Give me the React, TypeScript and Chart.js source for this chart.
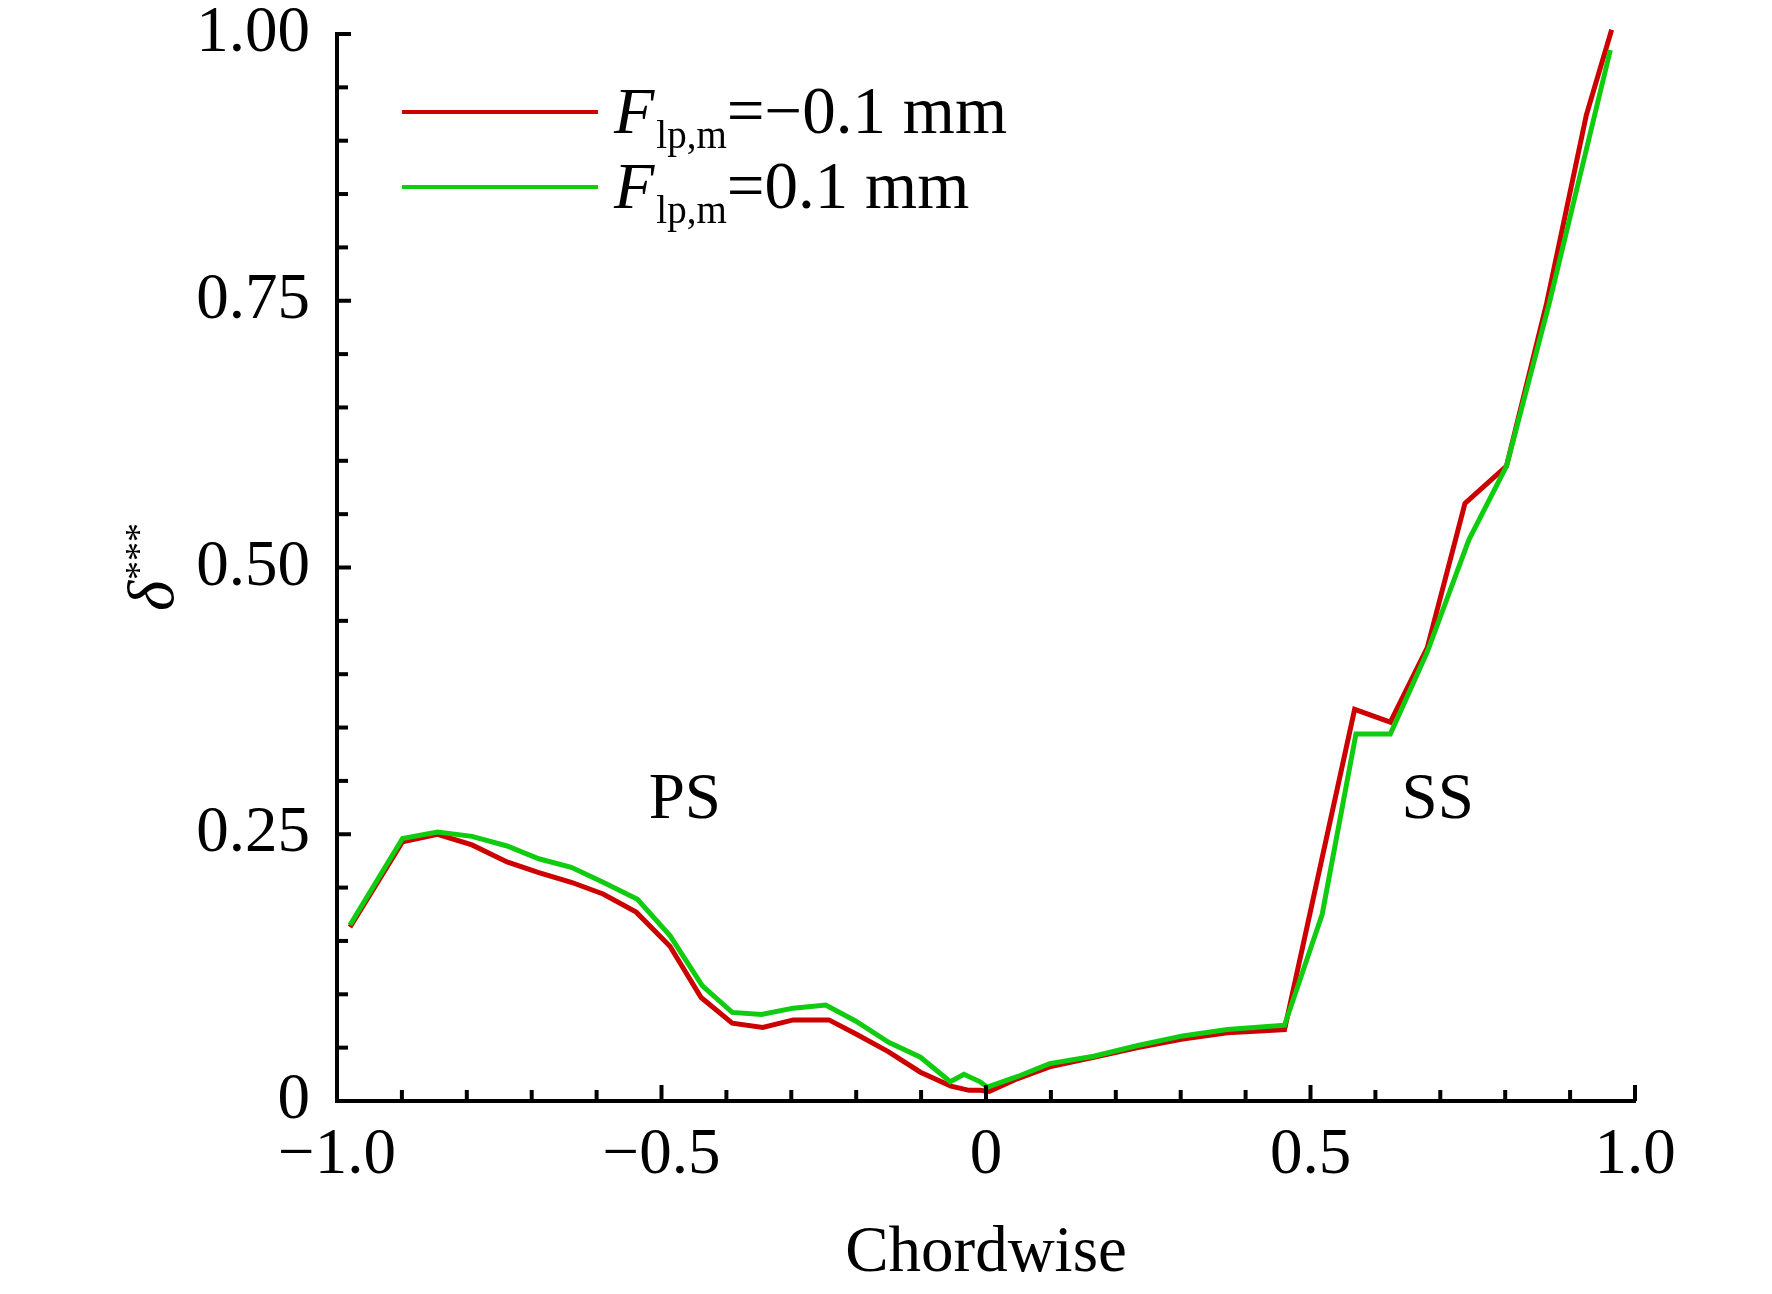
import React, { useEffect, useRef } from 'react';
import { Chart, registerables } from 'chart.js';

Chart.register(...registerables);

const FONT = "'Liberation Serif', 'Times New Roman', serif";

// chordwise position and delta*** for F_lp,m = -0.1 mm
const redX = [
  -0.98, -0.899, -0.845, -0.792, -0.738, -0.689, -0.639, -0.59, -0.539, -0.487, -0.439, -0.391,
  -0.344, -0.297, -0.242, -0.201, -0.15, -0.101, -0.054, -0.026, -0.009, 0.005, 0.049, 0.098,
  0.166, 0.234, 0.303, 0.372, 0.46, 0.568, 0.623, 0.68, 0.738, 0.802, 0.864, 0.925, 0.964,
];
const redY = [
  0.163, 0.243, 0.25, 0.24, 0.224, 0.214, 0.205, 0.194, 0.177, 0.145, 0.097, 0.073,
  0.069, 0.076, 0.076, 0.063, 0.046, 0.027, 0.014, 0.01, 0.01, 0.009, 0.021, 0.032,
  0.041, 0.05, 0.058, 0.064, 0.067, 0.367, 0.355, 0.425, 0.56, 0.595, 0.748, 0.924, 1.004,
];

// F_lp,m = 0.1 mm
const greenX = [
  -0.98, -0.899, -0.845, -0.792, -0.738, -0.689, -0.639, -0.59, -0.537, -0.487, -0.437, -0.391,
  -0.346, -0.297, -0.247, -0.201, -0.15, -0.101, -0.055, -0.034, -0.009, 0.002, 0.049, 0.098,
  0.166, 0.234, 0.303, 0.372, 0.46, 0.518, 0.57, 0.623, 0.68, 0.744, 0.802, 0.868, 0.962,
];
const greenY = [
  0.165, 0.246, 0.252, 0.248, 0.239, 0.227, 0.219, 0.205, 0.189, 0.155, 0.108, 0.083,
  0.081, 0.087, 0.09, 0.075, 0.055, 0.041, 0.018, 0.025, 0.018, 0.013, 0.023, 0.035,
  0.042, 0.052, 0.061, 0.067, 0.071, 0.175, 0.344, 0.344, 0.421, 0.526, 0.595, 0.748, 0.985,
];

const xTickValues = [-1, -0.5, 0, 0.5, 1];
const xTickLabels = ['\u22121.0', '\u22120.5', '0', '0.5', '1.0'];
const yTickValues = [0, 0.25, 0.5, 0.75, 1];
const yTickLabels = ['0', '0.25', '0.50', '0.75', '1.00'];

const seriesColors = ['#cc0000', '#10cc10'];
const legendTails = ['=\u22120.1 mm', '=0.1 mm'];
const regionLabels = ['PS', 'SS'];
const regionX = [-0.464, 0.696];
const regionY = 0.265;

const toPoints = (xs: number[], ys: number[]) => xs.map((x, i) => ({ x, y: ys[i] }));

const decorPlugin = {
  id: 'decor',
  afterDraw(chart: any) {
    const { ctx, chartArea, scales } = chart;
    const xs = scales.x;
    const ys = scales.y;
    ctx.save();
    ctx.strokeStyle = '#000';
    ctx.lineWidth = 4;

    // inward tick marks
    for (let i = 0; i <= 20; i++) {
      const px = xs.getPixelForValue(-1 + i * 0.1);
      const len = i % 5 === 0 ? 16 : 11;
      ctx.beginPath();
      ctx.moveTo(px, chartArea.bottom);
      ctx.lineTo(px, chartArea.bottom - len);
      ctx.stroke();
    }
    for (let i = 1; i <= 20; i++) {
      const py = ys.getPixelForValue(i * 0.05);
      const len = i % 5 === 0 ? 14 : 11;
      ctx.beginPath();
      ctx.moveTo(chartArea.left, py);
      ctx.lineTo(chartArea.left + len, py);
      ctx.stroke();
    }

    ctx.fillStyle = '#000';
    ctx.textBaseline = 'alphabetic';

    // PS / SS
    ctx.font = `65px ${FONT}`;
    ctx.textAlign = 'center';
    regionLabels.forEach((t, i) => {
      ctx.fillText(t, xs.getPixelForValue(regionX[i]), ys.getPixelForValue(regionY));
    });

    // legend
    ctx.textAlign = 'left';
    legendTails.forEach((tail, i) => {
      const ly = 112 + i * 75;
      ctx.strokeStyle = seriesColors[i];
      ctx.lineWidth = 4;
      ctx.beginPath();
      ctx.moveTo(402, ly);
      ctx.lineTo(598, ly);
      ctx.stroke();
      const base = ly + 21;
      let tx = 614;
      ctx.font = `italic 66px ${FONT}`;
      ctx.fillText('F', tx, base);
      tx += ctx.measureText('F').width + 2;
      ctx.font = `39px ${FONT}`;
      ctx.fillText('lp,m', tx, base + 15);
      tx += ctx.measureText('lp,m').width;
      ctx.font = `67px ${FONT}`;
      ctx.fillText(tail, tx, base);
    });

    // y axis title: delta with superscript ***
    ctx.font = `italic 65px ${FONT}`;
    const dw = ctx.measureText('\u03b4').width;
    ctx.font = `38px ${FONT}`;
    const sw = ctx.measureText('***').width;
    const cy = (chartArea.top + chartArea.bottom) / 2;
    ctx.translate(173, cy + (dw + sw) / 2);
    ctx.rotate(-Math.PI / 2);
    ctx.font = `italic 65px ${FONT}`;
    ctx.fillText('\u03b4', 0, 0);
    ctx.font = `38px ${FONT}`;
    ctx.fillText('***', dw + 1, -22);
    ctx.restore();
  },
};

const App: React.FC = () => {
  const canvasRef = useRef<HTMLCanvasElement | null>(null);
  const chartRef = useRef<Chart | null>(null);

  useEffect(() => {
    if (chartRef.current) {
      chartRef.current.destroy();
    }
    const ctx = canvasRef.current?.getContext('2d');
    if (!ctx) return;

    chartRef.current = new Chart(ctx, {
      type: 'scatter',
      data: {
        datasets: [
          {
            label: 'Flp,m=\u22120.1 mm',
            data: toPoints(redX, redY),
            borderColor: seriesColors[0],
            backgroundColor: seriesColors[0],
            showLine: true,
            borderWidth: 5,
            pointRadius: 0,
            tension: 0,
            clip: false,
            order: 1,
          },
          {
            label: 'Flp,m=0.1 mm',
            data: toPoints(greenX, greenY),
            borderColor: seriesColors[1],
            backgroundColor: seriesColors[1],
            showLine: true,
            borderWidth: 5,
            pointRadius: 0,
            tension: 0,
            clip: false,
            order: 0,
          },
        ],
      },
      options: {
        animation: false,
        responsive: true,
        maintainAspectRatio: false,
        layout: { padding: { top: 34, right: 137, bottom: 0, left: 0 } },
        plugins: {
          legend: { display: false },
          tooltip: { enabled: false },
        },
        scales: {
          x: {
            type: 'linear',
            min: -1,
            max: 1,
            afterBuildTicks: (s: any) => {
              s.ticks = xTickValues.map((v) => ({ value: v }));
            },
            afterFit: (s: any) => {
              s.height = 193;
              s.paddingLeft = 0;
              s.paddingRight = 0;
            },
            grid: { display: false, drawTicks: false },
            border: { display: true, color: '#000', width: 4 },
            ticks: {
              color: '#000',
              padding: 16,
              maxRotation: 0,
              font: { family: FONT, size: 65 },
              callback: (v: any) => xTickLabels[xTickValues.indexOf(Number(v))],
            },
            title: {
              display: true,
              text: 'Chordwise',
              color: '#000',
              padding: { top: 0, bottom: 1 },
              font: { family: FONT, size: 65 },
            },
          },
          y: {
            type: 'linear',
            min: 0,
            max: 1,
            afterBuildTicks: (s: any) => {
              s.ticks = yTickValues.map((v) => ({ value: v }));
            },
            afterFit: (s: any) => {
              s.width = 337;
              s.paddingTop = 0;
              s.paddingBottom = 0;
            },
            grid: { display: false, drawTicks: false },
            border: { display: true, color: '#000', width: 4 },
            ticks: {
              color: '#000',
              padding: 27,
              font: { family: FONT, size: 65 },
              callback: (v: any) => yTickLabels[yTickValues.indexOf(Number(v))],
            },
          },
        },
      },
      plugins: [decorPlugin],
    });

    return () => {
      if (chartRef.current) {
        chartRef.current.destroy();
        chartRef.current = null;
      }
    };
  }, []);

  return (
    <div style={{ position: 'fixed', left: 0, top: 0, width: 1772, height: 1294, background: '#fff' }}>
      <canvas ref={canvasRef} />
    </div>
  );
};

export default App;
